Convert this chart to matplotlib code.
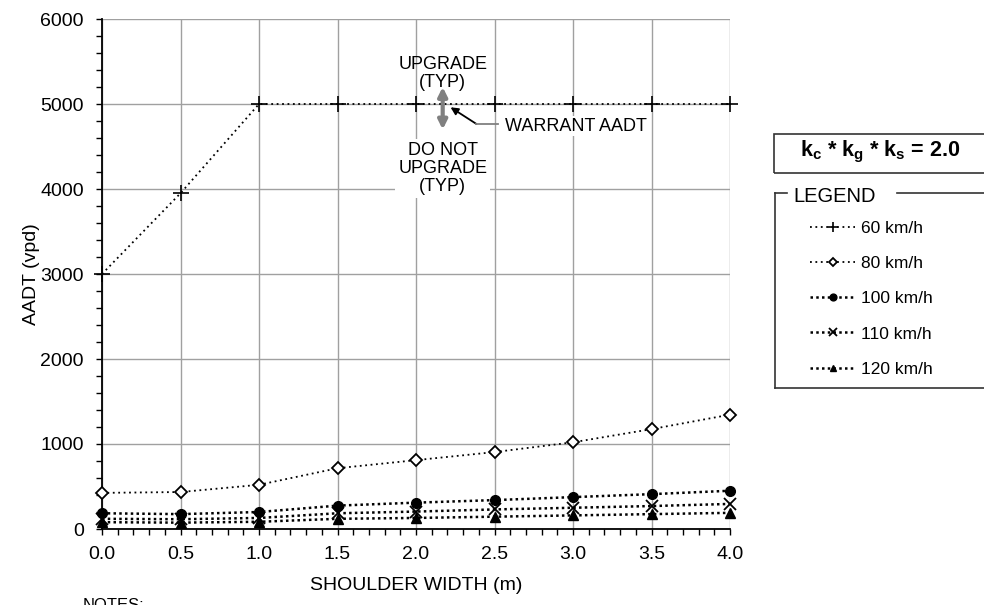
import matplotlib
matplotlib.use("Agg")
import matplotlib.pyplot as plt
from matplotlib.lines import Line2D
from matplotlib.patches import Rectangle
from matplotlib.ticker import MultipleLocator

plt.rcParams['font.family'] = ['Liberation Sans', 'DejaVu Sans']
plt.rcParams['mathtext.fontset'] = 'custom'
plt.rcParams['mathtext.rm'] = 'Liberation Sans'
plt.rcParams['mathtext.bf'] = 'Liberation Sans:bold'

# ---- data ----
shoulder = [0.0, 0.5, 1.0, 1.5, 2.0, 2.5, 3.0, 3.5, 4.0]
aadt_60 = [3000, 3950, 5000, 5000, 5000, 5000, 5000, 5000, 5000]
aadt_80 = [425, 435, 520, 715, 810, 905, 1020, 1175, 1345]
aadt_100 = [185, 175, 200, 275, 310, 340, 375, 410, 450]
aadt_110 = [120, 115, 130, 185, 205, 230, 250, 270, 295]
aadt_120 = [80, 75, 85, 120, 130, 145, 160, 175, 190]
series_labels = ['60 km/h', '80 km/h', '100 km/h', '110 km/h', '120 km/h']
x_ticks = [0.0, 0.5, 1.0, 1.5, 2.0, 2.5, 3.0, 3.5, 4.0]
y_ticks = [0, 1000, 2000, 3000, 4000, 5000, 6000]

W, H = 984, 605
fig = plt.figure(figsize=(W / 100, H / 100), dpi=100)
ax = fig.add_axes([102 / W, 1 - 529 / H, (730 - 102) / W, (529 - 19) / H])

ax.set_xlim(0, 4)
ax.set_ylim(0, 6000)
ax.set_xticks(x_ticks)
ax.set_xticklabels([f"{v:.1f}" for v in x_ticks])
ax.set_yticks(y_ticks)
ax.xaxis.set_minor_locator(MultipleLocator(0.1))
ax.yaxis.set_minor_locator(MultipleLocator(200))
ax.grid(True, which='major', color='#a0a0a0', lw=1.0, zorder=0)
ax.set_axisbelow(True)
for s in ['top', 'right']:
    ax.spines[s].set_visible(False)
for s in ['left', 'bottom']:
    ax.spines[s].set_linewidth(1.3)
    ax.spines[s].set_color('black')
ax.tick_params(which='both', direction='out', length=4, width=1, labelsize=14, colors='black')
ax.tick_params(axis='x', which='major', pad=8)
ax.tick_params(axis='y', which='major', pad=9)
ax.tick_params(which='minor', labelsize=0)

ax.set_xlabel('SHOULDER WIDTH (m)', fontsize=14, labelpad=10)
ax.set_ylabel('AADT (vpd)', fontsize=14, labelpad=0)

ls_fine = (0, (1, 2))
ls_bold = (0, (1, 1.3))
h60, = ax.plot(shoulder, aadt_60, color='black', lw=1.3, ls=ls_fine, marker='+',
               ms=11, mew=1.2, clip_on=False, zorder=4)
h80, = ax.plot(shoulder, aadt_80, color='black', lw=1.3, ls=ls_fine, marker='D',
               ms=6.5, mew=1.3, mfc='white', mec='black', clip_on=False, zorder=4)
h100, = ax.plot(shoulder, aadt_100, color='black', lw=1.8, ls=ls_bold, marker='o',
                ms=7, mew=1, clip_on=False, zorder=4)
h110, = ax.plot(shoulder, aadt_110, color='black', lw=1.8, ls=ls_bold, marker='x',
                ms=8, mew=1.3, clip_on=False, zorder=4)
h120, = ax.plot(shoulder, aadt_120, color='black', lw=1.8, ls=ls_bold, marker='^',
                ms=7, mew=1, clip_on=False, zorder=4)

# ---- annotations ----
ax.text(2.17, 5355, 'UPGRADE\n(TYP)', ha='center', va='center', fontsize=13,
        linespacing=1.1, zorder=5)
ax.text(2.17, 4243, 'DO NOT\nUPGRADE\n(TYP)', ha='center', va='center', fontsize=13,
        linespacing=1.1, zorder=5,
        bbox=dict(boxstyle='square,pad=0.15', fc='white', ec='none'))
ax.annotate('', xy=(2.17, 5200), xytext=(2.17, 4700),
            arrowprops=dict(arrowstyle='<|-|>', color='#808080', lw=3,
                            mutation_scale=13, shrinkA=0, shrinkB=0), zorder=5)
ax.annotate('', xy=(2.22, 4961), xytext=(2.385, 4765),
            arrowprops=dict(arrowstyle='-|>', color='black', lw=1.3,
                            mutation_scale=11, shrinkA=0, shrinkB=0), zorder=5)
ax.plot([2.385, 2.52], [4765, 4765], color='#808080', lw=1.3, zorder=5)
ax.text(2.567, 4741, 'WARRANT AADT', ha='left', va='center', fontsize=13, zorder=5,
        bbox=dict(boxstyle='square,pad=0.1', fc='white', ec='none'))

# ---- k factor box ----
fig.patches.append(Rectangle((774 / W, 1 - 173 / H), (W + 10 - 774) / W, (173 - 134) / H,
                             transform=fig.transFigure, fill=False, ec='#333333', lw=1.2,
                             clip_on=False))
fig.text(800 / W, 1 - 152 / H,
         r'$\mathbf{k_c}$ * $\mathbf{k_g}$ * $\mathbf{k_s}$ = 2.0',
         fontsize=15.5, fontweight='bold', ha='left', va='center')

# ---- legend frame ----
top_y = 1 - 193 / H
bot_y = 1 - 388 / H
left_x = 775 / W
for xs, ys in [([left_x, 787 / W], [top_y, top_y]),
               ([897 / W, 1.0], [top_y, top_y]),
               ([left_x, left_x], [top_y, bot_y]),
               ([left_x, 1.0], [bot_y, bot_y])]:
    fig.add_artist(Line2D(xs, ys, transform=fig.transFigure, color='#333333', lw=1.2))
fig.text(793 / W, 1 - 197 / H, 'LEGEND', fontsize=14.5, ha='left', va='center')

fig.legend([h60, h80, h100, h110, h120], series_labels,
           loc='upper left', bbox_to_anchor=(810 / W, 1 - 221 / H),
           frameon=False, fontsize=12.5, handlelength=2.6, handletextpad=0.35,
           labelspacing=1.15, borderaxespad=0, borderpad=0, markerscale=0.7)

fig.text(83 / W, 1 - 598 / H, 'NOTES:', fontsize=12, ha='left', va='top')

fig.savefig('out.png', dpi=100)
